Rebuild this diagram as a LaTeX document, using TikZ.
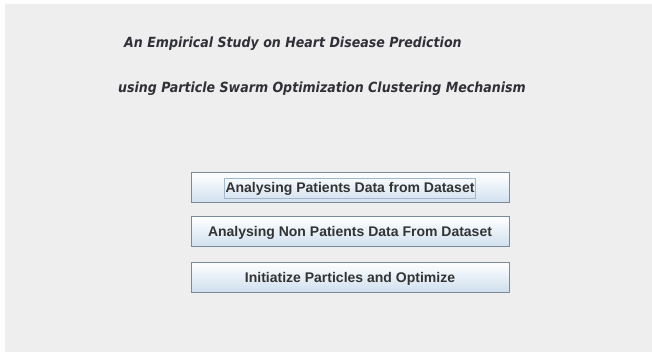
\documentclass[tikz,border=0pt]{standalone}
\usepackage{fontspec}
\setmainfont{Liberation Sans}
\newfontfamily\headfont[FakeStretch=0.9]{DejaVu Sans}
\usetikzlibrary{positioning}

\definecolor{panel}{HTML}{EEEEEE}
\definecolor{btnborder}{HTML}{7A8A99}
\definecolor{btntop}{HTML}{DDE8F3}
\definecolor{btnmid}{HTML}{FAFCFE}
\definecolor{btnbot}{HTML}{B8CFE5}
\definecolor{focusline}{HTML}{A3B8CC}
\definecolor{btntext}{HTML}{333333}
\definecolor{headtext}{HTML}{303038}

\pgfdeclareverticalshading{btnshade}{100bp}{color(0bp)=(btnbot); color(70bp)=(btnmid); color(80bp)=(btnmid); color(100bp)=(btntop)}

\tikzset{
  headline/.style={anchor=base west, inner sep=0pt, text=headtext,
    font=\headfont\bfseries\itshape\fontsize{14}{16}\selectfont},
  button/.style={draw=btnborder, line width=1pt, shading=btnshade,
    minimum width=318pt, minimum height=30pt, inner sep=0pt},
  buttontext/.style={text=btntext, font=\bfseries\fontsize{14}{16}\selectfont,
    text height=10pt, text depth=0pt, inner xsep=1pt, inner ysep=5pt},
  focusbox/.style={draw=focusline, line width=0.8pt}
}

\begin{document}
\begin{tikzpicture}[x=1pt,y=-1pt]

  \useasboundingbox (0,0) rectangle (652,352);
  \fill[panel] (5,4) rectangle (652,352);

  \node[headline] (head1) at (124,48) {An Empirical Study on Heart Disease Prediction};
  \node[headline] (head2) at (118,93) {using Particle Swarm Optimization Clustering Mechanism};

  \begin{scope}[every node/.style={button}]
    \node (patients)    at (350,188) {};
    \node (nonpatients) at (350,232) {};
    \node (particles)   at (350,277) {};
  \end{scope}

  \begin{scope}[every node/.style={buttontext}]
    \node[focusbox] (patientstext) at (patients) {Analysing Patients Data from Dataset};
    \node (nonpatientstext) at (nonpatients) {Analysing Non Patients Data From Dataset};
    \node (particlestext)   at (particles)   {Initiatize Particles and Optimize};
  \end{scope}

\end{tikzpicture}
\end{document}
